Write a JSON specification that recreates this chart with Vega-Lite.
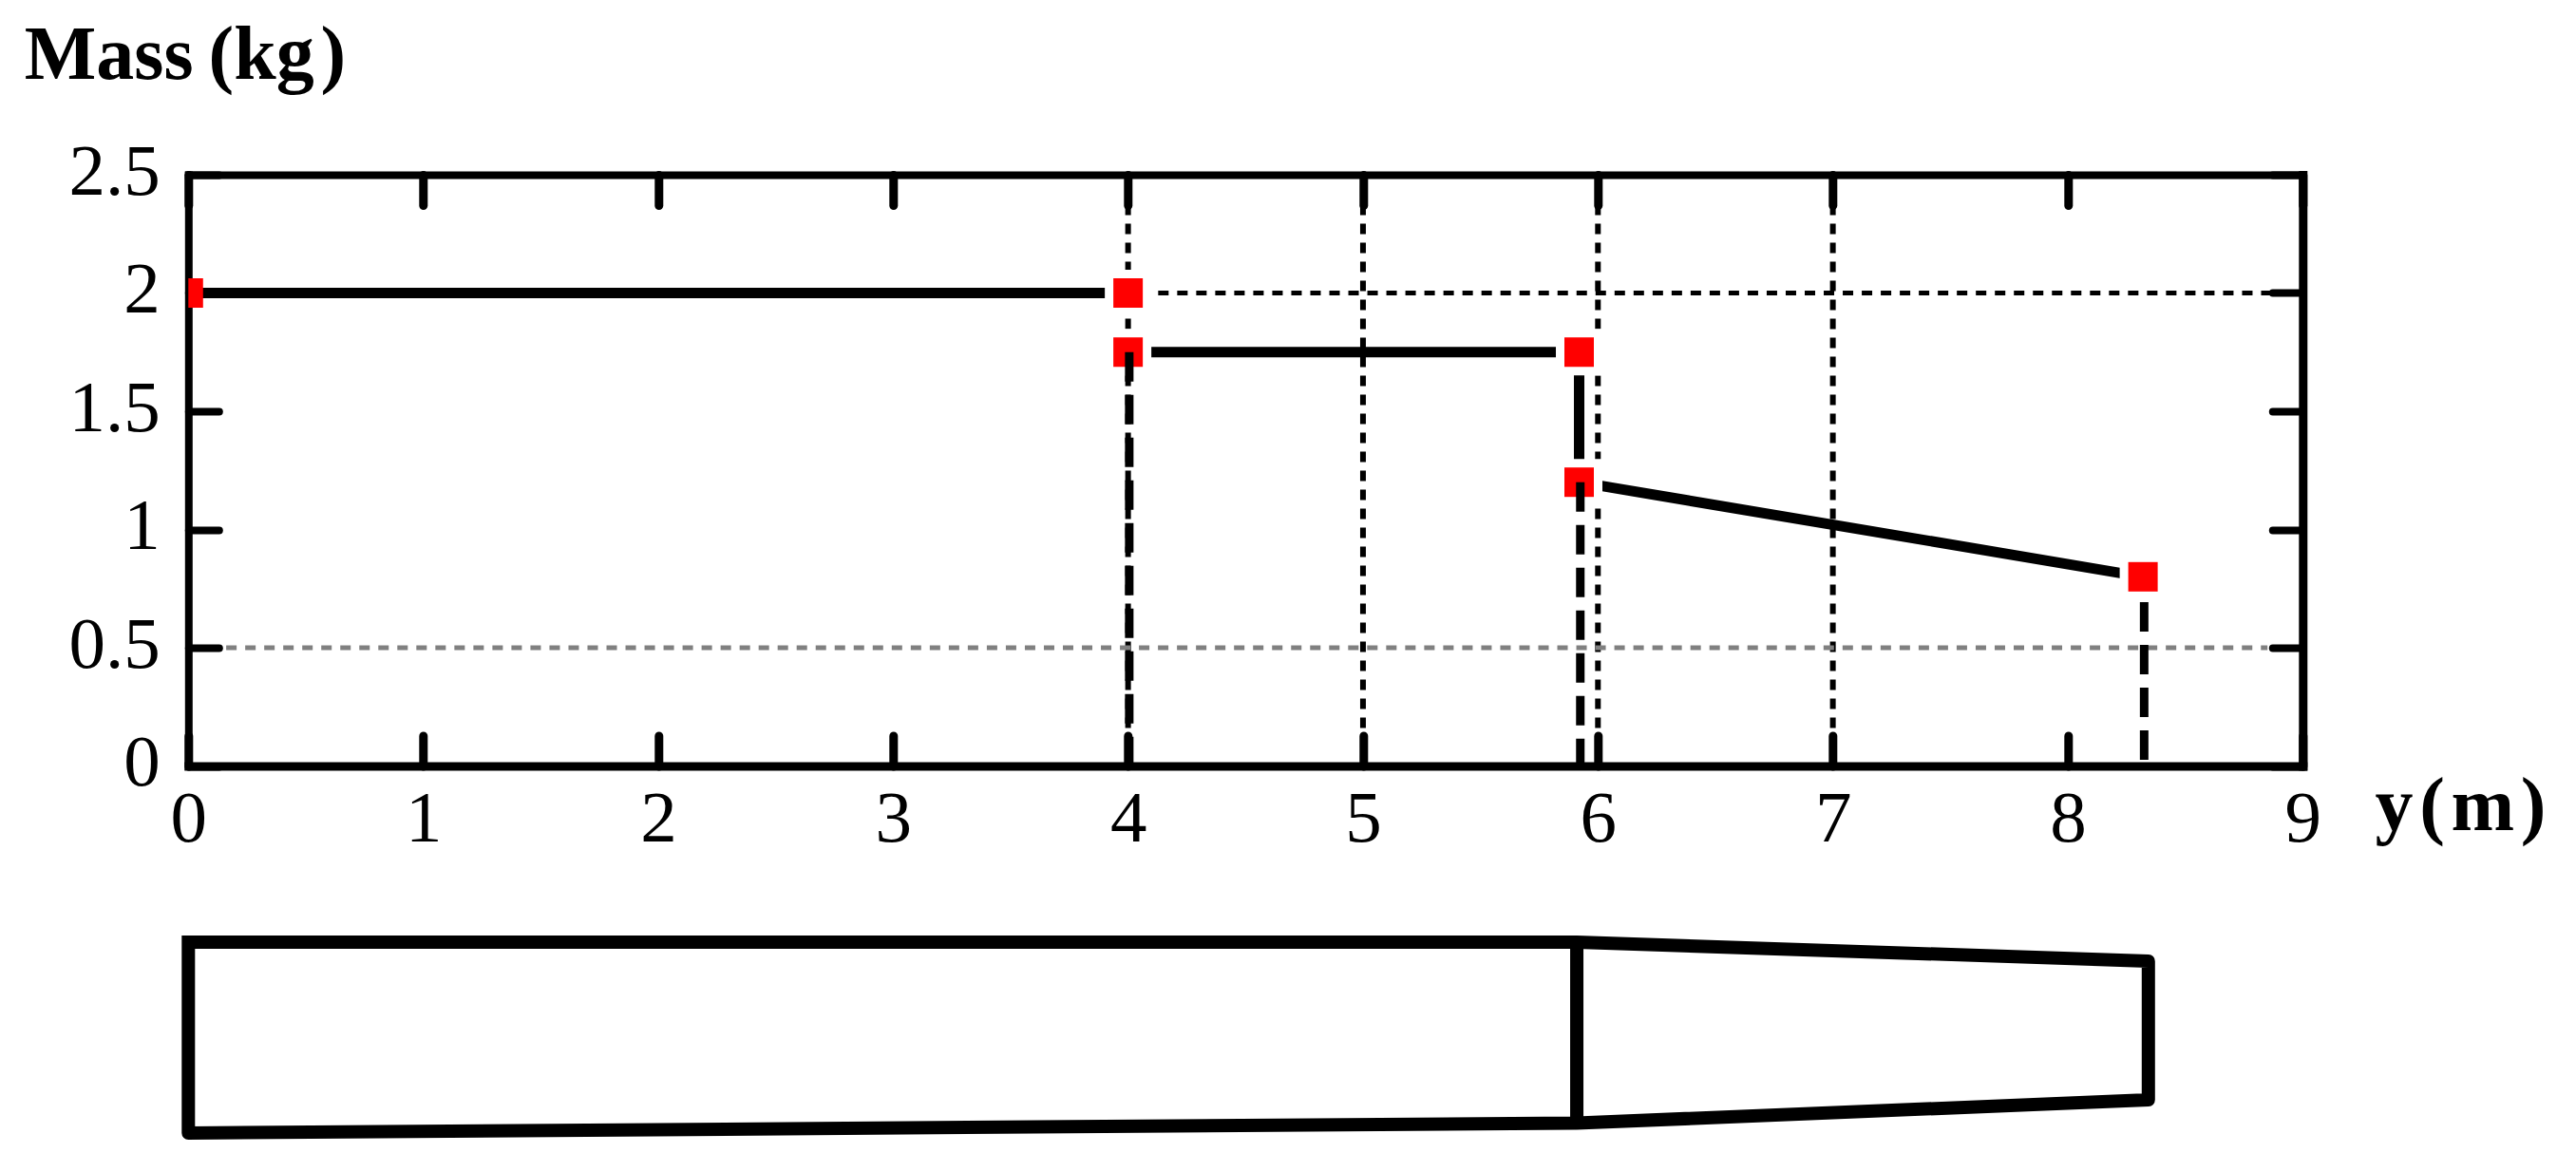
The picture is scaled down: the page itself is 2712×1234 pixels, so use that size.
{
"$schema":"https://vega.github.io/schema/vega-lite/v6.json",
"autosize":"none","width":2226,"height":622.5,
"padding":{"left":198.3,"top":184,"right":287.7,"bottom":427.5},
"background":"white",
"view":{"stroke":null},
"config":{"font":"Liberation Serif"},
"datasets":{
"vgrid":[{"y_m":4,"low":0,"high":2.5},{"y_m":5,"low":0,"high":2.5},{"y_m":6,"low":0,"high":2.5},{"y_m":7,"low":0,"high":2.5}],
"hgrid":[{"from":0,"to":9,"mass":2}],
"hgrid2":[{"from":0.161,"to":8.85,"mass":0.5}],
"mass":[
{"seg":"a","i":0,"y_m":0,"mass":2},{"seg":"a","i":1,"y_m":4,"mass":2},
{"seg":"b","i":0,"y_m":4,"mass":1.75},{"seg":"b","i":1,"y_m":5.92,"mass":1.75},{"seg":"b","i":2,"y_m":5.92,"mass":1.2},{"seg":"b","i":3,"y_m":8.32,"mass":0.8}],
"halo":[{"y_m":4,"mass":2},{"y_m":4,"mass":1.75},{"y_m":5.92,"mass":1.75},{"y_m":5.92,"mass":1.2},{"y_m":8.32,"mass":0.8}],
"pts":[{"y_m":0,"mass":2},{"y_m":4,"mass":2},{"y_m":4,"mass":1.75},{"y_m":5.92,"mass":1.75},{"y_m":5.92,"mass":1.2},{"y_m":8.32,"mass":0.8}],
"drops":[{"y_m":4.005,"top":1.75,"low":0},{"y_m":5.925,"top":1.2,"low":0},{"y_m":8.325,"top":0.693,"low":0}],
"wing":[{"i":0,"y_m":0,"c":-0.745},{"i":1,"y_m":5.91,"c":-0.745},{"i":2,"y_m":8.343,"c":-0.825},{"i":3,"y_m":8.343,"c":-1.412},{"i":4,"y_m":5.91,"c":-1.51},{"i":5,"y_m":0,"c":-1.552},{"i":6,"y_m":0,"c":-0.745}],
"rib":[{"y_m":5.91,"c1":-0.745,"c2":-1.51}]
},
"resolve":{"axis":{"x":"independent","y":"independent"}},
"layer":[
{"data":{"name":"vgrid"},"mark":{"type":"rule","stroke":"black","strokeWidth":6,"strokeDash":[11,9]},
"encoding":{
"x":{"field":"y_m","type":"quantitative","scale":{"domain":[0,9],"nice":false,"zero":false},
"axis":{"orient":"bottom","values":[0,1,2,3,4,5,6,7,8,9],"format":"~g","title":"y\u200a(\u200am\u200a)","grid":false,"domainColor":"black","domainWidth":9,"domainCap":"square","tickColor":"black","tickWidth":9,"tickSize":-32,"tickCap":"round","labelFont":"Liberation Serif","labelFontSize":77,"labelColor":"black","labelPadding":50,"labelAngle":0,"labelBaseline":"top","labelOverlap":false,"labelBound":false,"labelFlush":false,"titleFont":"Liberation Serif","titleFontSize":80,"titleFontWeight":"bold","titleColor":"black","titleAlign":"left","titleBaseline":"alphabetic","titleAnchor":null,"titleX":2301.7,"titleY":66.5}},
"y":{"field":"low","type":"quantitative","scale":{"domain":[0,2.5],"nice":false,"zero":false},
"axis":{"orient":"left","values":[0,0.5,1,1.5,2,2.5],"format":"~g","title":"Mass\u2009(kg\u200a)","grid":false,"domainColor":"black","domainWidth":8,"domainCap":"square","tickColor":"black","tickWidth":8,"tickSize":-32,"tickCap":"round","labelFont":"Liberation Serif","labelFontSize":77,"labelColor":"black","labelPadding":62,"labelAlign":"right","labelBaseline":"middle","labelOffset":-3,"labelOverlap":false,"labelBound":false,"labelFlush":false,"titleFont":"Liberation Serif","titleFontSize":80,"titleFontWeight":"bold","titleColor":"black","titleAngle":0,"titleAlign":"left","titleBaseline":"alphabetic","titleAnchor":null,"titleX":-173,"titleY":-102}},
"y2":{"field":"high"}}},
{"data":{"name":"hgrid"},"mark":{"type":"rule","stroke":"black","strokeWidth":5,"strokeDash":[11,9.02]},
"encoding":{"x":{"field":"from","type":"quantitative","axis":null},"x2":{"field":"to"},"y":{"field":"mass","type":"quantitative","axis":null}}},
{"data":{"name":"hgrid2"},"mark":{"type":"rule","stroke":"#808080","strokeWidth":5,"strokeDash":[11,9.02]},
"encoding":{"x":{"field":"from","type":"quantitative","axis":null},"x2":{"field":"to"},"y":{"field":"mass","type":"quantitative","axis":null}}},
{"data":{"name":"mass"},"mark":{"type":"line","stroke":"black","strokeWidth":11,"strokeCap":"butt"},
"encoding":{"x":{"field":"y_m","type":"quantitative",
"axis":{"orient":"top","values":[0,1,2,3,4,5,6,7,8,9],"title":null,"labels":false,"grid":false,"domainColor":"black","domainWidth":8,"domainCap":"square","tickColor":"black","tickWidth":9,"tickSize":-32,"tickCap":"round"}},
"y":{"field":"mass","type":"quantitative",
"axis":{"orient":"right","values":[0,0.5,1,1.5,2,2.5],"title":null,"labels":false,"grid":false,"domainColor":"black","domainWidth":9,"domainCap":"square","tickColor":"black","tickWidth":8,"tickSize":-32,"tickCap":"round"}},
"detail":{"field":"seg"},"order":{"field":"i"}}},
{"data":{"name":"halo"},"mark":{"type":"square","size":961,"fill":"white","stroke":"white","strokeWidth":18,"opacity":1},
"encoding":{"x":{"field":"y_m","type":"quantitative","axis":null},"y":{"field":"mass","type":"quantitative","axis":null}}},
{"data":{"name":"pts"},"mark":{"type":"square","size":961,"fill":"#ff0000","strokeWidth":0,"opacity":1,"clip":true},
"encoding":{"x":{"field":"y_m","type":"quantitative","axis":null},"y":{"field":"mass","type":"quantitative","axis":null}}},
{"data":{"name":"drops"},"mark":{"type":"rule","stroke":"black","strokeWidth":9,"strokeDash":[31,14]},
"encoding":{"x":{"field":"y_m","type":"quantitative","axis":null},"y":{"field":"top","type":"quantitative","axis":null},"y2":{"field":"low"}}},
{"data":{"name":"wing"},"mark":{"type":"line","stroke":"black","strokeWidth":14,"strokeCap":"square","strokeJoin":"round"},
"encoding":{"x":{"field":"y_m","type":"quantitative","axis":null},"y":{"field":"c","type":"quantitative","axis":null},"order":{"field":"i"}}},
{"data":{"name":"rib"},"mark":{"type":"rule","stroke":"black","strokeWidth":14},
"encoding":{"x":{"field":"y_m","type":"quantitative","axis":null},"y":{"field":"c1","type":"quantitative","axis":null},"y2":{"field":"c2"}}}
]
}
